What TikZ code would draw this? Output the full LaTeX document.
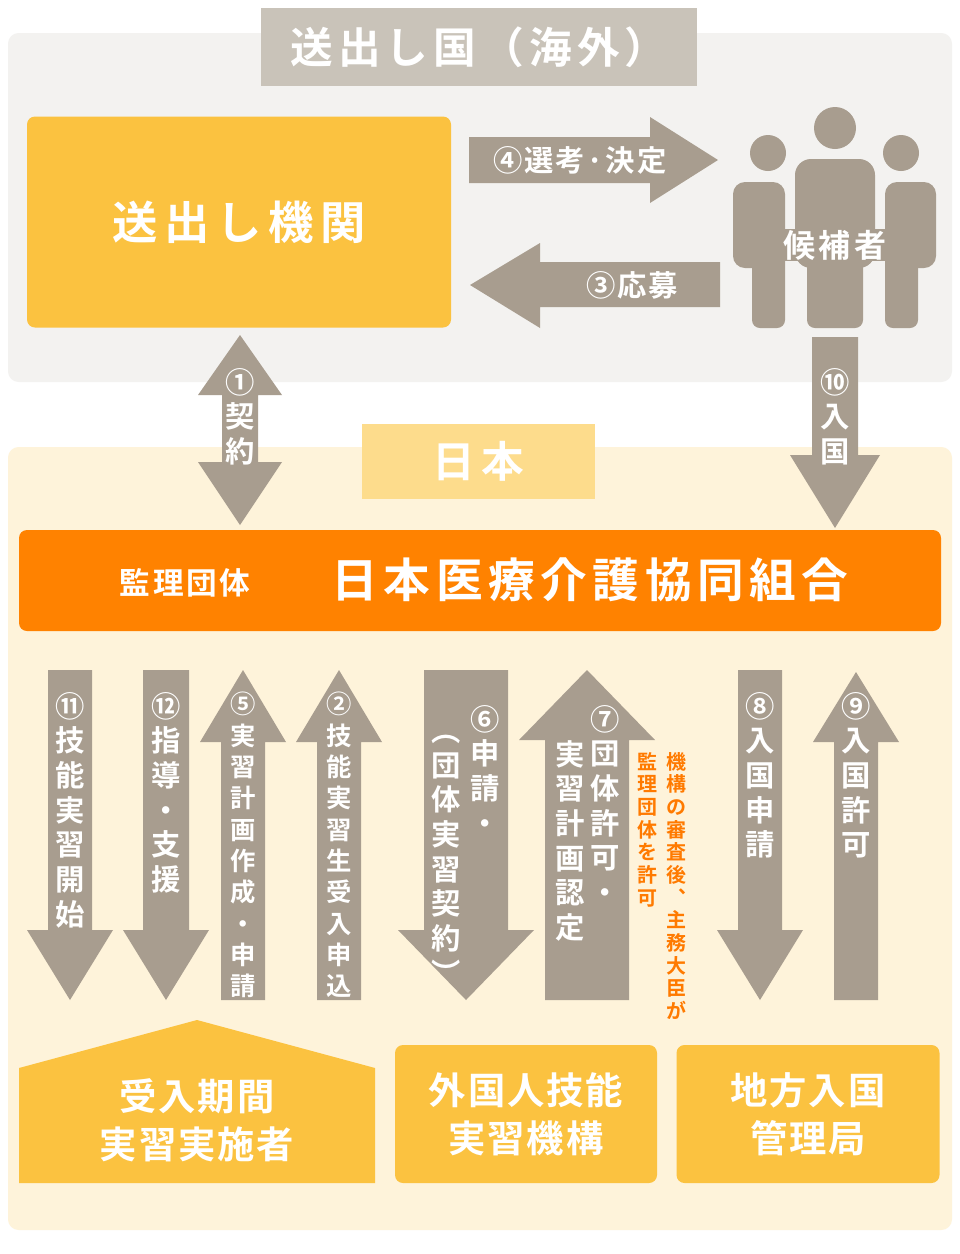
\documentclass[tikz,border=0pt]{standalone}
\usepackage{fontspec}
\setmainfont{Noto Sans CJK JP}[BoldFont={Noto Sans CJK JP Bold}]
\definecolor{pgray}{HTML}{F3F2F0}
\definecolor{tgray}{HTML}{C9C3B9}
\definecolor{agray}{HTML}{A89D8F}
\definecolor{ybox}{HTML}{FBC240}
\definecolor{jbg}{HTML}{FEF3DA}
\definecolor{jtit}{HTML}{FDDC8C}
\definecolor{obar}{HTML}{FF8200}
\definecolor{onote}{HTML}{FF7A00}
\newcommand\dnarr[6]{% cx, ytop, yhead, ybot, half shaft, half head
 \fill[agray] (#1-#5,#2) -- (#1+#5,#2) -- (#1+#5,#3) -- (#1+#6,#3) -- (#1,#4) -- (#1-#6,#3) -- (#1-#5,#3) -- cycle;}
\newcommand\uparr[6]{% cx, ytip, yhead, ybot, half shaft, half head
 \fill[agray] (#1,#2) -- (#1+#6,#3) -- (#1+#5,#3) -- (#1+#5,#4) -- (#1-#5,#4) -- (#1-#5,#3) -- (#1-#6,#3) -- cycle;}
\newcommand\LS[1]{\addfontfeatures{LetterSpace=#1}}
\tikzset{
 vt/.style={text=white,font=\fontsize{22}{26}\selectfont\bfseries,align=center,anchor=north,inner sep=0pt},
 vn/.style={text=onote,font=\fontsize{15}{17}\selectfont\bfseries,align=center,anchor=north,inner sep=0pt},
 ht/.style={text=white,font=\fontsize{22}{22}\selectfont\bfseries\LS{6}},
}
\begin{document}
\begin{tikzpicture}[x=0.75pt,y=-0.75pt]
\useasboundingbox (0,0) rectangle (960,1254);
\fill[white] (0,0) rectangle (960,1254);
% top panel
\fill[pgray,rounded corners=8] (8,33) rectangle (952,382);
\node[fill=tgray,minimum width=436*0.75pt,minimum height=78*0.75pt,text=white,font=\fontsize{32}{32}\selectfont\bfseries\LS{12}] (ttl) at (479,47) {送出し国（海外）};
\node[fill=ybox,rounded corners=6,minimum width=424*0.75pt,minimum height=211*0.75pt,text=white,font=\fontsize{34}{34}\selectfont\bfseries\LS{15}] (okuri) at (239,222) {送出し機関};
% arrow 4
\fill[agray] (469,137) -- (650,137) -- (650,117) -- (718,160) -- (650,203) -- (650,183) -- (469,183) -- cycle;
\node[ht] (a4) at (580,160) {④選考·決定};
% arrow 3
\fill[agray] (720,262) -- (540,262) -- (540,243) -- (470,285) -- (540,328) -- (540,307) -- (720,307) -- cycle;
\node[ht] (a3) at (632,285) {③応募};
% people
\fill[agray] (835,128) circle (21);
\fill[agray] (768,153) circle (18);
\fill[agray] (901,153) circle (18);
\fill[agray,rounded corners=9] (733,182) rectangle (785,268);
\fill[agray,rounded corners=6] (752,250) rectangle (785,328);
\fill[agray,rounded corners=9] (885,182) rectangle (936,268);
\fill[agray,rounded corners=6] (885,250) rectangle (918,328);
\fill[pgray,rounded corners=14] (790,154) rectangle (880,272);
\fill[pgray,rounded corners=8] (802,250) rectangle (868,332);
\fill[agray,rounded corners=12] (795,159) rectangle (875,268);
\fill[agray,rounded corners=6] (807,250) rectangle (863,328);
\node[fill=agray,inner sep=1pt,text=white,font=\fontsize{24}{24}\selectfont\bfseries\LS{10}] (kouho) at (835,245) {候補者};
% Japan panel
\fill[jbg,rounded corners=8] (8,447) rectangle (952,1230);
\node[fill=jtit,minimum width=233*0.75pt,minimum height=75*0.75pt,text=white,font=\fontsize{32}{32}\selectfont\bfseries\LS{15}] (jp) at (478,461) {日本};
% arrow 1 double
\fill[agray] (240,335) -- (282,395) -- (258,395) -- (258,462) -- (282,462) -- (240,525) -- (198,462) -- (222,462) -- (222,395) -- (198,395) -- cycle;
\node[vt] (a1) at (240,368) {①\\契\\約};
% arrow 10
\dnarr{835}{337}{455}{528}{23}{45}
\node[vt] (a10) at (835,368) {⑩\\入\\国};
% orange bar
\fill[obar,rounded corners=6] (19,530) rectangle (941,631);
\node[text=white,font=\fontsize{23}{23}\selectfont\bfseries\LS{8}] (kanri) at (185,583) {監理団体};
\node[text=white,font=\fontsize{35}{35}\selectfont\bfseries\LS{12}] (name) at (590,580) {日本医療介護協同組合};
% bottom arrows
\dnarr{70}{670}{930}{1000}{22}{43}
\node[vt] (a11) at (70,692) {⑪\\技\\能\\実\\習\\開\\始};
\dnarr{166}{670}{930}{1000}{23}{43}
\node[vt] (a12) at (166,692) {⑫\\指\\導\\・\\支\\援};
\uparr{243}{670}{742}{1000}{22}{43}
\node[vt,font=\fontsize{19}{23.5}\selectfont\bfseries] (a5) at (243,692) {⑤\\実\\習\\計\\画\\作\\成\\・\\申\\請};
\uparr{339}{670}{742}{1000}{22}{43}
\node[vt,font=\fontsize{19}{23.5}\selectfont\bfseries] (a2) at (339,692) {②\\技\\能\\実\\習\\生\\受\\入\\申\\込};
\dnarr{466}{670}{930}{1000}{42}{68}
\node[vt] (a6) at (485,705) {⑥\\申\\請\\・};
\node[vt] (a6b) at (446,735) {︵\\団\\体\\実\\習\\契\\約\\︶};
\uparr{587}{670}{740}{1000}{42}{68}
\node[vt] (a7) at (605,705) {⑦\\団\\体\\許\\可\\・};
\node[vt] (a7b) at (570,740) {実\\習\\計\\画\\認\\定};
\node[vn] (n1) at (676,752) {機\\構\\の\\審\\査\\後\\︑\\主\\務\\大\\臣\\が};
\node[vn] (n2) at (647,752) {監\\理\\団\\体\\を\\許\\可};
\dnarr{760}{670}{930}{1000}{22}{43}
\node[vt] (a8) at (760,692) {⑧\\入\\国\\申\\請};
\uparr{856}{672}{742}{1000}{22}{43}
\node[vt] (a9) at (856,692) {⑨\\入\\国\\許\\可};
% bottom boxes
\fill[ybox] (19,1183) -- (19,1068) -- (197,1020) -- (375,1068) -- (375,1183) -- cycle;
\node[text=white,align=center,font=\fontsize{28}{36}\selectfont\bfseries\LS{5}] (uke) at (197,1120) {受入期間\\実習実施者};
\node[fill=ybox,rounded corners=6,minimum width=262*0.75pt,minimum height=138*0.75pt,text=white,align=center,font=\fontsize{28}{36}\selectfont\bfseries\LS{5}] (kikou) at (526,1114) {外国人技能\\実習機構};
\node[fill=ybox,rounded corners=6,minimum width=263*0.75pt,minimum height=138*0.75pt,text=white,align=center,font=\fontsize{28}{36}\selectfont\bfseries\LS{5}] (chiho) at (808,1114) {地方入国\\管理局};
\end{tikzpicture}
\end{document}
